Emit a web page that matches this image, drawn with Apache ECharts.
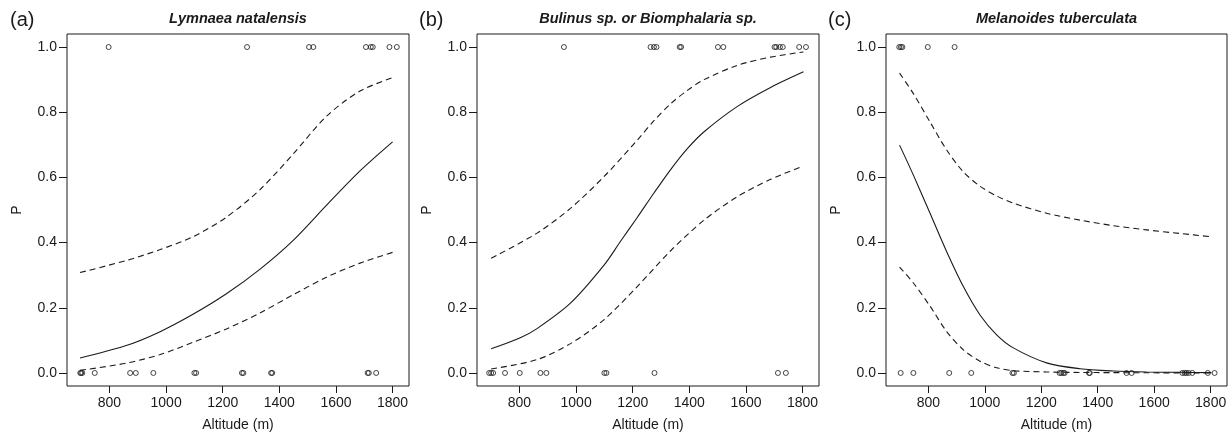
<!DOCTYPE html>
<html>
<head>
<meta charset="utf-8">
<script src="https://cdn.jsdelivr.net/npm/echarts@6/dist/echarts.min.js"></script>
<style>html,body{margin:0;padding:0;background:#fff;}#c{width:1232px;height:437px;}</style>
</head>
<body>
<div id="c"></div>
<script>
// ---------- data ----------
const panelLabels = ['(a)', '(b)', '(c)'];
const panelTitles = ['Lymnaea natalensis', 'Bulinus sp. or Biomphalaria sp.', 'Melanoides tuberculata'];
const xTickValues = [800, 1000, 1200, 1400, 1600, 1800];
const yTickValues = [0, 0.2, 0.4, 0.6, 0.8, 1.0];

// Panel (a)
const presentA = [797, 1286, 1505, 1520, 1706, 1723, 1730, 1789, 1815];
const absentA = [697, 700, 704, 748, 873, 893, 955, 1100, 1106, 1268, 1273, 1371, 1375, 1712, 1716, 1742];
const altA = [696, 859, 977, 1095, 1213, 1331, 1449, 1567, 1685, 1800];
const fitA = [0.046, 0.084, 0.126, 0.18, 0.243, 0.318, 0.407, 0.515, 0.62, 0.709];
const upperA = [0.308, 0.345, 0.378, 0.418, 0.478, 0.562, 0.672, 0.788, 0.865, 0.906];
const lowerA = [0.008, 0.03, 0.056, 0.094, 0.135, 0.184, 0.24, 0.294, 0.337, 0.37];

// Panel (b)
const presentB = [957, 1263, 1275, 1284, 1366, 1371, 1501, 1520, 1701, 1707, 1720, 1730, 1788, 1812];
const absentB = [693, 700, 707, 749, 801, 874, 895, 1100, 1107, 1277, 1713, 1741];
const altFitB = [700, 803, 862, 980, 1098, 1157, 1216, 1275, 1334, 1393, 1452, 1570, 1687, 1803];
const fitB = [0.074, 0.108, 0.136, 0.214, 0.33, 0.404, 0.477, 0.552, 0.624, 0.688, 0.74, 0.818, 0.876, 0.924];
const altUpperB = [700, 862, 980, 1098, 1216, 1275, 1334, 1393, 1452, 1570, 1687, 1803];
const upperB = [0.352, 0.429, 0.505, 0.602, 0.714, 0.774, 0.826, 0.867, 0.9, 0.944, 0.969, 0.985];
const altLowerB = [700, 862, 980, 1098, 1216, 1334, 1452, 1570, 1687, 1803];
const lowerB = [0.012, 0.041, 0.09, 0.163, 0.265, 0.375, 0.469, 0.541, 0.594, 0.635];

// Panel (c)
const presentC = [697, 703, 708, 798, 893];
const absentC = [702, 747, 874, 952, 1098, 1103, 1265, 1271, 1278, 1283, 1369, 1372, 1502, 1520, 1700, 1708, 1714, 1722, 1735, 1790, 1814];
const altC = [698, 747, 806, 865, 924, 983, 1042, 1101, 1219, 1337, 1455, 1573, 1691, 1803];
const fitC = [0.699, 0.607, 0.49, 0.372, 0.265, 0.178, 0.117, 0.077, 0.031, 0.013, 0.006, 0.003, 0.002, 0.001];
const upperC = [0.92, 0.857, 0.77, 0.684, 0.617, 0.573, 0.543, 0.521, 0.49, 0.469, 0.452, 0.439, 0.428, 0.418];
const lowerC = [0.325, 0.276, 0.205, 0.127, 0.071, 0.036, 0.016, 0.007, 0.003, 0.0015, 0.001, 0.0005, 0.0003, 0.0002];

// ---------- build ----------
const FONT = '"Liberation Sans", Arial, sans-serif';
const INK = '#1a1a1a';
const grids = [
  {left: 67, top: 34, width: 342, height: 352},
  {left: 477, top: 34, width: 342, height: 352},
  {left: 886, top: 34, width: 341, height: 352}
];
const labelX = [10, 419, 828];

const zip = (xs, ys) => xs.map((x, i) => [x, ys[i]]);
const pts = (xs, v) => xs.map(x => [x, v]);

const panels = [
  {present: presentA, absent: absentA, fit: zip(altA, fitA), up: zip(altA, upperA), lo: zip(altA, lowerA)},
  {present: presentB, absent: absentB, fit: zip(altFitB, fitB), up: zip(altUpperB, upperB), lo: zip(altLowerB, lowerB)},
  {present: presentC, absent: absentC, fit: zip(altC, fitC), up: zip(altC, upperC), lo: zip(altC, lowerC)}
];

const xAxes = [], yAxes = [], series = [], graphics = [];
grids.forEach((g, i) => {
  g.show = true; g.borderColor = INK; g.borderWidth = 1; g.backgroundColor = '#fff';
  xAxes.push({
    type: 'value', gridIndex: i, min: 650, max: 1858, position: 'bottom',
    name: 'Altitude (m)', nameLocation: 'middle', nameGap: 32,
    nameTextStyle: {fontFamily: FONT, fontSize: 14, color: INK},
    axisLine: {show: false, onZero: false},
    axisTick: {show: true, inside: false, length: 7, customValues: xTickValues, lineStyle: {color: INK}},
    axisLabel: {customValues: xTickValues, formatter: v => String(v), fontFamily: FONT, fontSize: 14, color: INK, margin: 10},
    splitLine: {show: false}
  });
  yAxes.push({
    type: 'value', gridIndex: i, min: -0.04, max: 1.04, position: 'left',
    name: 'P', nameLocation: 'middle', nameGap: 43,
    nameTextStyle: {fontFamily: FONT, fontSize: 14, color: INK},
    axisLine: {show: false, onZero: false},
    axisTick: {show: true, inside: false, length: 8, customValues: yTickValues, lineStyle: {color: INK}},
    axisLabel: {customValues: yTickValues, formatter: v => v.toFixed(1), fontFamily: FONT, fontSize: 14, color: INK, margin: 10},
    splitLine: {show: false}
  });
  const p = panels[i];
  const lineBase = {type: 'line', xAxisIndex: i, yAxisIndex: i, showSymbol: false, symbol: 'none',
    smooth: 0.3, silent: true, z: 2};
  series.push(Object.assign({}, lineBase, {data: p.fit, lineStyle: {color: INK, width: 1.1}}));
  series.push(Object.assign({}, lineBase, {data: p.up, lineStyle: {color: INK, width: 1.1, type: [6, 4]}}));
  series.push(Object.assign({}, lineBase, {data: p.lo, lineStyle: {color: INK, width: 1.1, type: [6, 4]}}));
  const sc = {type: 'scatter', xAxisIndex: i, yAxisIndex: i, symbol: 'circle', symbolSize: 5, silent: true, z: 3,
    itemStyle: {color: 'rgba(0,0,0,0)', borderColor: INK, borderWidth: 1}};
  series.push(Object.assign({}, sc, {data: pts(p.present, 1)}));
  series.push(Object.assign({}, sc, {data: pts(p.absent, 0)}));

  graphics.push({type: 'text', left: labelX[i], top: 10,
    style: {text: panelLabels[i], font: '20px ' + FONT, fill: INK}});
  graphics.push({type: 'text', x: g.left + g.width / 2, y: 19,
    style: {text: panelTitles[i], font: 'italic bold 14.5px ' + FONT, fill: INK, textAlign: 'center', textVerticalAlign: 'middle'}});
});

const chart = echarts.init(document.getElementById('c'), null, {renderer: 'canvas'});
chart.setOption({
  animation: false,
  backgroundColor: '#fff',
  grid: grids, xAxis: xAxes, yAxis: yAxes, series: series, graphic: graphics
});
</script>
</body>
</html>
